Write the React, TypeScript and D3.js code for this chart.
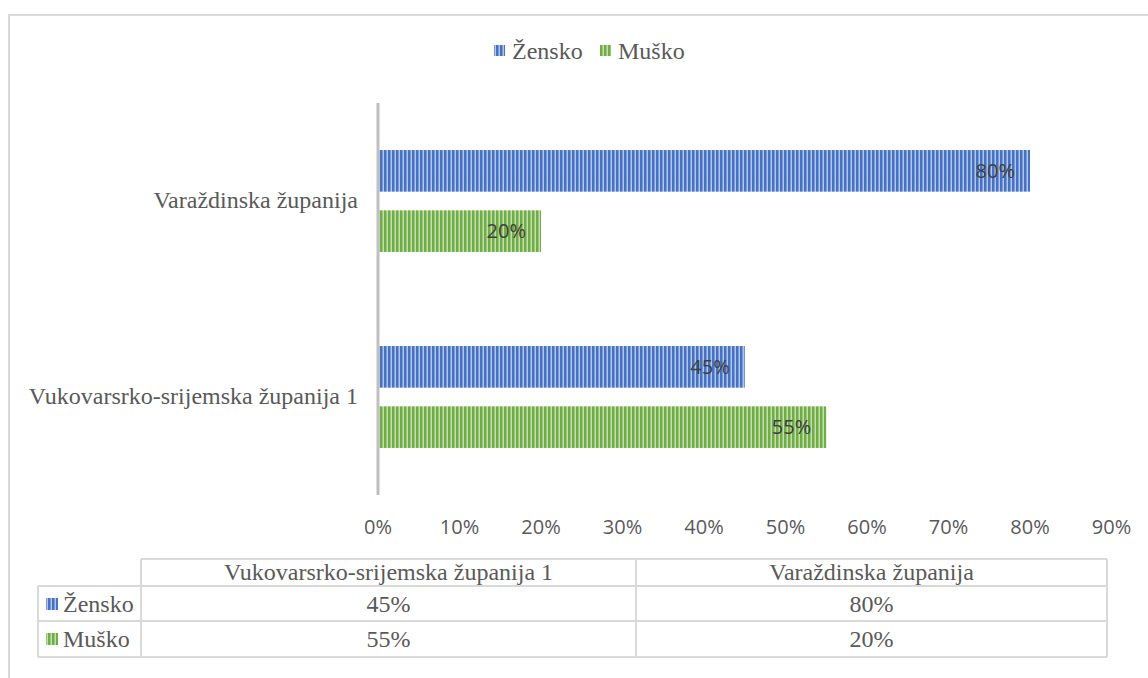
import React from "react";
import * as d3 from "d3";

const categories = ["Varaždinska županija", "Vukovarsrko-srijemska županija 1"];
const tableCategories = ["Vukovarsrko-srijemska županija 1", "Varaždinska županija"];
const seriesNames = ["Žensko", "Muško"];
const zensko = [80, 45];
const musko = [20, 55];
const ticks = [0, 10, 20, 30, 40, 50, 60, 70, 80, 90];

const colors: Record<string, [string, string]> = {
  "Žensko": ["#4472C4", "#b4c7ea"],
  "Muško": ["#70AD47", "#c2e0ad"],
};

export default function App() {
  const W = 1148, H = 678;
  const x = d3.scaleLinear().domain([0, 90]).range([378, 1111.5]);
  const y0 = d3.scaleBand<string>().domain(categories).range([103, 495]).paddingInner(0.48).paddingOuter(0.24);
  const y1 = d3.scaleBand<string>().domain(seriesNames).range([0, y0.bandwidth()]).paddingInner(0.31);
  const values: Record<string, number[]> = { "Žensko": zensko, "Muško": musko };
  const textCol = "#595959";
  const serif = "'Liberation Serif', 'Times New Roman', serif";
  const sans = "'Open Sans', 'Liberation Sans', sans-serif";

  const tLeft = 141, tMid = 636, tRight = 1107;
  const rows = [559, 586, 621, 657];
  const tableVal = (s: string, tc: string) => values[s][categories.indexOf(tc)];

  return (
    <svg width={W} height={H} style={{ position: "absolute", left: 0, top: 0, background: "#fff" }}>
      <defs>
        {seriesNames.map((s, i) => (
          <pattern key={s} id={`pat${i}`} patternUnits="userSpaceOnUse" width={4} height={10}>
            <rect width={4} height={10} fill={colors[s][1]} />
            <rect width={2.5} height={10} fill={colors[s][0]} />
          </pattern>
        ))}
      </defs>
      <rect x={9} y={15} width={1160} height={700} fill="#fff" stroke="#d9d9d9" strokeWidth={2} />

      {/* legend */}
      {seriesNames.map((s, i) => {
        const lx = [494, 600][i];
        return (
          <g key={s}>
            <rect x={lx} y={45} width={11} height={11} fill={`url(#pat${i})`} />
            <text x={lx + 18} y={59} fontFamily={serif} fontSize={24} fill={textCol}>{s}</text>
          </g>
        );
      })}

      {/* bars */}
      {categories.map((c, ci) => (
        <g key={c}>
          <text x={358} y={(y0(c) as number) + y0.bandwidth() / 2 + 7} textAnchor="end" fontFamily={serif} fontSize={24} fill={textCol}>{c}</text>
          {seriesNames.map((s, si) => {
            const v = values[s][ci];
            const by = (y0(c) as number) + (y1(s) as number);
            return (
              <g key={s}>
                <rect x={x(0)} y={by} width={x(v) - x(0)} height={y1.bandwidth()} fill={`url(#pat${si})`} />
                <text x={x(v) - 15} y={by + y1.bandwidth() / 2 + 7} textAnchor="end" fontFamily={sans} fontSize={20} fill="#404040">{v}%</text>
              </g>
            );
          })}
        </g>
      ))}

      <line x1={x(0)} x2={x(0)} y1={103} y2={495} stroke="#bfbfbf" strokeWidth={3} />

      {ticks.map((t) => (
        <text key={t} x={x(t)} y={534} textAnchor="middle" fontFamily={sans} fontSize={20} fill={textCol}>{t}%</text>
      ))}

      {/* data table */}
      <g stroke="#d9d9d9" strokeWidth={2} fill="none">
        <line x1={tLeft} x2={tRight} y1={rows[0]} y2={rows[0]} />
        <line x1={38} x2={tRight} y1={rows[1]} y2={rows[1]} />
        <line x1={38} x2={tRight} y1={rows[2]} y2={rows[2]} />
        <line x1={38} x2={tRight} y1={rows[3]} y2={rows[3]} />
        <line x1={38} x2={38} y1={rows[1]} y2={rows[3]} />
        <line x1={tLeft} x2={tLeft} y1={rows[0]} y2={rows[3]} />
        <line x1={tMid} x2={tMid} y1={rows[0]} y2={rows[3]} />
        <line x1={tRight} x2={tRight} y1={rows[0]} y2={rows[3]} />
      </g>
      {tableCategories.map((tc, i) => {
        const cx = i === 0 ? (tLeft + tMid) / 2 : (tMid + tRight) / 2;
        return (
          <g key={tc}>
            <text x={cx} y={rows[0] + 21} textAnchor="middle" fontFamily={serif} fontSize={24} fill={textCol}>{tc}</text>
            {seriesNames.map((s, si) => (
              <text key={s} x={cx} y={rows[si + 1] + 26} textAnchor="middle" fontFamily={serif} fontSize={24} fill={textCol}>{tableVal(s, tc)}%</text>
            ))}
          </g>
        );
      })}
      {seriesNames.map((s, si) => (
        <g key={s}>
          <rect x={46} y={rows[si + 1] + 12} width={12} height={12} fill={`url(#pat${si})`} />
          <text x={63} y={rows[si + 1] + 26} fontFamily={serif} fontSize={24} fill={textCol}>{s}</text>
        </g>
      ))}
    </svg>
  );
}
